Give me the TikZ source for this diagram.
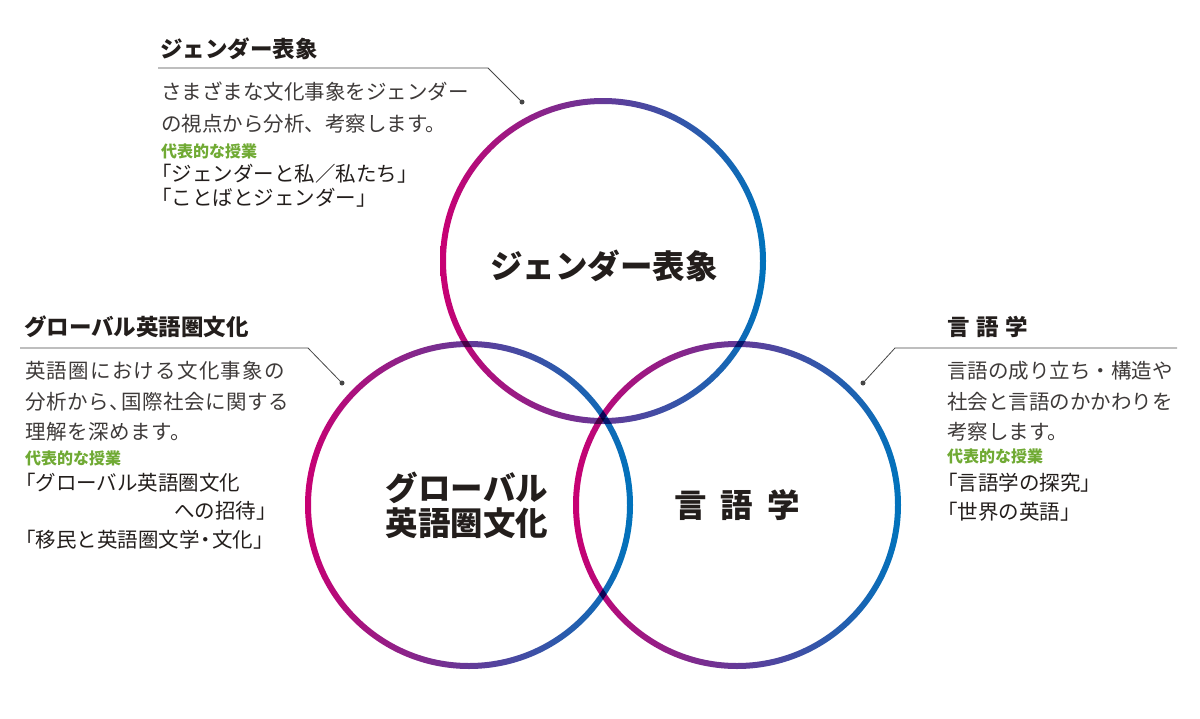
\documentclass[tikz,border=0pt]{standalone}
\usepackage{fontspec}
\setmainfont{Noto Sans CJK JP}
\usepackage{tikz}
\usetikzlibrary{calc}
\definecolor{cmag}{RGB}{200,0,115}
\definecolor{cmid}{RGB}{125,85,160}
\definecolor{cblu}{RGB}{0,115,188}
\definecolor{ctext}{RGB}{35,30,28}
\definecolor{cbody}{RGB}{62,58,57}
\definecolor{cgreen}{RGB}{112,170,52}
\definecolor{cline}{RGB}{70,70,70}
\tikzset{ring/.style={
    even odd rule, blend mode=multiply,
    left color=cmag, middle color=cmid, right color=cblu
}}
\tikzset{leader/.style={draw=cline, line width=0.8pt}}
\tikzset{ttl/.style={anchor=west, inner sep=0pt, text=ctext,
    font=\fontsize{22.5}{27}\selectfont\bfseries}}
\tikzset{body/.style={anchor=west, inner sep=0pt, text=cbody,
    font=\fontsize{20.5}{25}\selectfont}}
\tikzset{grn/.style={anchor=west, inner sep=0pt, text=cgreen,
    font=\fontsize{16}{20}\selectfont\bfseries}}
\tikzset{course/.style={anchor=west, inner sep=0pt, text=ctext,
    font=\fontsize{20.5}{25}\selectfont}}
\tikzset{big/.style={inner sep=0pt, text=ctext, align=center,
    font=\fontsize{32.5}{35}\selectfont\bfseries}}

\begin{document}
\begin{tikzpicture}[x=1pt, y=-1pt]
\useasboundingbox (0,0) rectangle (1200,718);

%circles
\coordinate (cG) at (603,261);
\coordinate (cE) at (469,505);
\coordinate (cL) at (737,505);
\shade[ring] (cG) circle (163pt) (cG) circle (157pt);
\shade[ring] (cE) circle (164pt) (cE) circle (158pt);
\shade[ring] (cL) circle (164pt) (cL) circle (158pt);

\node[big] (gcenter) at (604,266) {ジェンダー表象};
\node[big] (ecenter) at (467,505) {グローバル\\英語圏文化};
\node[big] (lcenter) at (737,505) {言\hspace{14pt}語\hspace{14pt}学};

%gender
\coordinate (gL) at (158,68);
\coordinate (gK) at (488,68);
\coordinate (gdot) at (522,102);
\draw[leader] (gL) -- (gK) -- (gdot);
\fill[cline] (gdot) circle (2.5pt);
\node[ttl] (gtitle) at (160,49) {ジェンダー表象};
\node[body] (gtext1) at (161,92) {さまざまな文化事象をジェンダー};
\node[body] (gtext2) at (161,124) {の視点から分析、考察します。};
\node[grn] (ggrn) at (161,151) {代表的な授業};
\node[course] (gcls1) at (151,174) {「ジェンダーと私／私たち」};
\node[course] (gcls2) at (151,198) {「ことばとジェンダー」};

%english
\coordinate (eL) at (20,348);
\coordinate (eK) at (308,348);
\coordinate (edot) at (342,383);
\draw[leader] (eL) -- (eK) -- (edot);
\fill[cline] (edot) circle (2.5pt);
\node[ttl] (etitle) at (24,327) {グローバル英語圏文化};
\node[body] (etext1) at (25,371) {\addfontfeature{LetterSpace=6}英語圏における文化事象の};
\node[body] (etext2) at (25,402) {\addfontfeature{LetterSpace=3}分析から、\kern-9pt国際社会に関する};
\node[body] (etext3) at (25,432) {\addfontfeature{LetterSpace=3}理解を深めます。};
\node[grn] (egrn) at (25,458) {代表的な授業};
\node[course] (ecls1) at (15,483) {「グローバル英語圏文化};
\node[course, anchor=east] (ecls2) at (277,511) {への招待」};
\node[course] (ecls3) at (15,540) {「移民と英語圏文学\kern-4pt・\kern-4pt文化」};

%linguistics
\coordinate (lR) at (1177,348);
\coordinate (lK) at (895,348);
\coordinate (ldot) at (863,383);
\draw[leader] (lR) -- (lK) -- (ldot);
\fill[cline] (ldot) circle (2.5pt);
\node[ttl] (ltitle) at (947,327) {言\hspace{6.5pt}語\hspace{6.5pt}学};
\node[body] (ltext1) at (947,371) {言語の成り立ち・構造や};
\node[body] (ltext2) at (947,402) {社会と言語のかかわりを};
\node[body] (ltext3) at (947,432) {考察します。};
\node[grn] (lgrn) at (947,456) {代表的な授業};
\node[course] (lcls1) at (937,483) {「言語学の探究」};
\node[course] (lcls2) at (937,512) {「世界の英語」};

\end{tikzpicture}
\end{document}
